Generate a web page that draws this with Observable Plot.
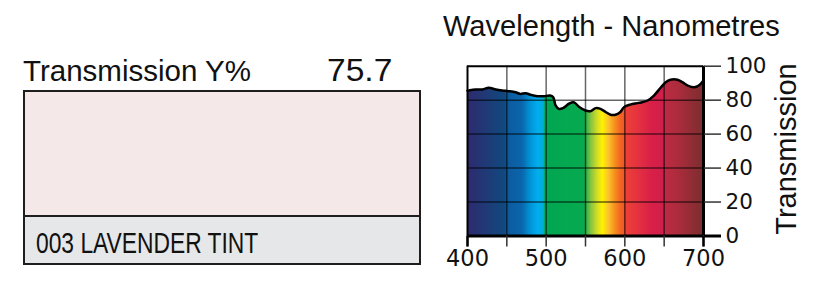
<!DOCTYPE html>
<html>
<head>
<meta charset="utf-8">
<script src="https://cdn.jsdelivr.net/npm/d3@7"></script>
<script src="https://cdn.jsdelivr.net/npm/@observablehq/plot@0.6"></script>
<style>
  html, body { margin: 0; padding: 0; background: #fff; }
  #root { position: relative; width: 827px; height: 283px; overflow: hidden; background: #fff; }
  #root svg { position: absolute; left: 0; top: 0; }
  .txt { position: absolute; white-space: nowrap; line-height: 1; color: #111;
         font-family: "Liberation Sans", Arial, Helvetica, sans-serif; transform-origin: 0 0; }
  #swatch { position: absolute; left: 23px; top: 90px; width: 398px; height: 175px;
            box-sizing: border-box; border: 2px solid #1e1e1e; }
  #pink { height: 123px; background: #f4e9e8; }
  #grey { height: 46px; background: #e6e7e8; border-top: 2px solid #1e1e1e; }
</style>
</head>
<body>
<div id="root">
  <div id="swatch"><div id="pink"></div><div id="grey"></div></div>
  <div class="txt" id="tY" style="left:23px; top:56px; font-size:29.5px;">Transmission Y%</div>
  <div class="txt" id="tVal" style="left:327px; top:54px; font-size:32px;">75.7</div>
  <div class="txt" id="tName" style="left:36px; top:228px; font-size:30px; font-family:'Liberation Sans Narrow','Liberation Sans',Arial,sans-serif;">003 LAVENDER TINT</div>
  <div class="txt" id="tTitle" style="left:443px; top:11.5px; font-size:29px;">Wavelength - Nanometres</div>
  <div class="txt" id="tYlab" style="left:786px; top:149px; font-size:29px; transform-origin:50% 50%; transform: translate(-50%,-50%) rotate(-90deg);">Transmission</div>
</div>
<script>
// ---- data ----
const wavelength = [400, 402, 410, 419, 427, 436, 444, 452, 461, 467, 474, 480, 489, 497, 505, 509, 512, 516, 522, 529, 535, 542, 550, 556, 563, 569, 576, 582, 588, 594, 599, 607, 618, 629, 637, 646, 652, 658, 667, 673, 680, 688, 694, 700];
const transmission = [85.5, 85.7, 86.3, 86.3, 87.3, 86.3, 85.7, 85.3, 84.7, 83.7, 84.1, 83.2, 82.3, 82.3, 82.7, 81.7, 76.9, 74.9, 75.5, 77.9, 78.8, 76.0, 73.9, 73.5, 75.3, 74.9, 72.9, 71.4, 71.4, 72.9, 75.9, 77.4, 78.4, 79.8, 82.7, 87.6, 90.6, 92.0, 92.0, 90.6, 88.6, 87.6, 88.6, 91.6];
const xTicks = [400, 450, 500, 550, 600, 650, 700];
const xLabelTicks = [400, 500, 600, 700];
const yTicks = [0, 20, 40, 60, 80, 100];
const gridX = [450, 500, 550, 600, 650];
const gridY = [20, 40, 60, 80];

// spectrum colour stops (wavelength -> colour)
const stopWl = [400, 448, 451, 470, 480, 490, 497, 499, 548, 551, 558, 566, 572, 580, 587, 595, 599, 601, 615, 635, 649, 651, 670, 700];
const stopColor = ["#2e2a6e", "#10497f", "#0d5a9c", "#0a66ad", "#0093d5", "#00aeef", "#00aed8", "#00a651", "#07aa4f", "#2bb24c", "#8dc63f", "#d7df23", "#fff200", "#fcc02e", "#f7941d", "#f26522", "#f05a28", "#ee4036", "#e5343f", "#d81f48", "#d01f4a", "#bf2a42", "#a92c3c", "#7b2e2e"];

const data = wavelength.map((w, i) => ({wl: w, t: transmission[i]}));

const plot = Plot.plot({
  width: 827,
  height: 283,
  marginLeft: 467,
  marginRight: 124,
  marginTop: 65.7,
  marginBottom: 47.5,
  x: {domain: [400, 700]},
  y: {domain: [0, 100]},
  style: {background: "transparent", color: "#111"},
  marks: [
    Plot.areaY(data, {x: "wl", y: "t", fill: "url(#spectrum)", curve: "catmull-rom"}),
    Plot.ruleX(gridX, {stroke: "#000", strokeOpacity: 0.6, strokeWidth: 1.5}),
    Plot.ruleY(gridY, {stroke: "#000", strokeOpacity: 0.6, strokeWidth: 1.5}),
    Plot.lineY(data, {x: "wl", y: "t", stroke: "#000", strokeWidth: 2.5, curve: "catmull-rom"}),
    Plot.ruleY([100], {stroke: "#000", strokeWidth: 2}),
    Plot.ruleX([400], {stroke: "#000", strokeWidth: 2}),
    Plot.ruleX([700], {stroke: "#000", strokeWidth: 3}),
    Plot.ruleY([0], {stroke: "#000", strokeWidth: 3}),
    Plot.axisX({ticks: xTicks, tickFormat: d => xLabelTicks.includes(d) ? String(d) : "", tickSize: 11, tickPadding: 3,
                fontSize: 22.5, fontFamily: "DejaVu Sans, sans-serif", stroke: "#333", strokeWidth: 1.5, label: null}),
    Plot.axisX({ticks: [400, 700], tickFormat: () => "", tickSize: 11, stroke: "#000", strokeWidth: 2.5, label: null}),
    Plot.axisY({anchor: "right", ticks: yTicks, tickSize: 17, tickPadding: 5,
                fontSize: 21.5, fontFamily: "DejaVu Sans, sans-serif", stroke: "#333", strokeWidth: 1.5, label: null}),
    Plot.axisY({anchor: "right", ticks: [0], tickFormat: () => "", tickSize: 17, stroke: "#000", strokeWidth: 3, label: null})
  ]
});

// gradient definition positioned with the plot's x scale
const xs = plot.scale("x");
const defs = d3.select(plot).insert("defs", ":first-child");
const grad = defs.append("linearGradient")
  .attr("id", "spectrum")
  .attr("gradientUnits", "userSpaceOnUse")
  .attr("x1", xs.apply(400)).attr("x2", xs.apply(700))
  .attr("y1", 0).attr("y2", 0);
stopWl.forEach((w, i) => {
  grad.append("stop").attr("offset", ((w - 400) / 300).toFixed(4)).attr("stop-color", stopColor[i]);
});

const root = document.getElementById("root");
root.insertBefore(plot, root.firstChild);

// fit text widths to those in the reference (offsetWidth ignores transforms)
function fit(id, target) {
  const el = document.getElementById(id);
  const w = el.offsetWidth;
  if (w > 0) el.style.transform = "scaleX(" + (target / w) + ")";
}
function fitAll() {
  fit("tName", 222);
  fit("tY", 228);
  fit("tTitle", 337);
  fit("tVal", 65);
}
fitAll();
if (document.fonts && document.fonts.ready) document.fonts.ready.then(fitAll);
</script>
</body>
</html>
